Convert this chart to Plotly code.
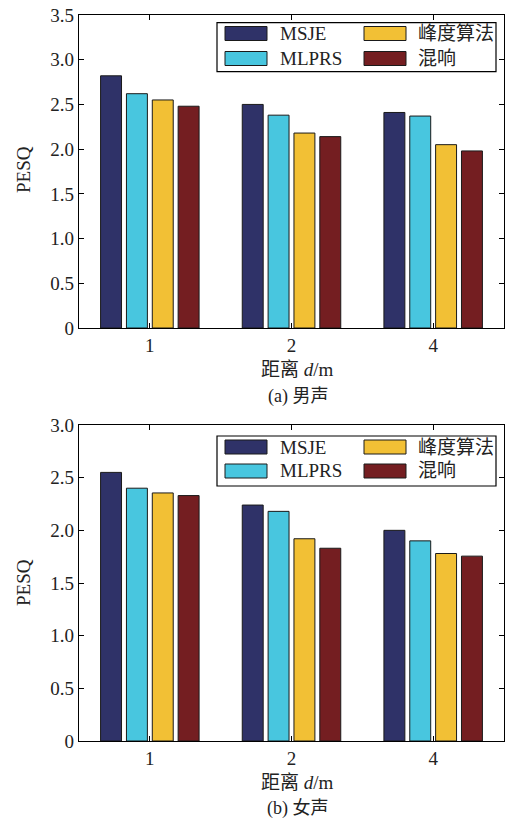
import plotly.graph_objects as go

W, H = 505, 821

categories = ["1", "2", "4"]
series_names = ["MSJE", "MLPRS", "峰度算法", "混响"]
series_colors = ["#2F3268", "#48C6DF", "#F2C035", "#741E21"]

male_msje = [2.82, 2.50, 2.41]
male_mlprs = [2.62, 2.38, 2.37]
male_kurt = [2.55, 2.18, 2.05]
male_reverb = [2.48, 2.14, 1.98]

female_msje = [2.55, 2.24, 2.00]
female_mlprs = [2.40, 2.18, 1.90]
female_kurt = [2.355, 1.92, 1.78]
female_reverb = [2.33, 1.83, 1.755]

y_ticks_top = [0, 0.5, 1.0, 1.5, 2.0, 2.5, 3.0, 3.5]
y_ticktext_top = ["0", "0.5", "1.0", "1.5", "2.0", "2.5", "3.0", "3.5"]
y_ticks_bot = [0, 0.5, 1.0, 1.5, 2.0, 2.5, 3.0]
y_ticktext_bot = ["0", "0.5", "1.0", "1.5", "2.0", "2.5", "3.0"]

SERIF = "Liberation Serif"
MIXED = "Liberation Serif, Noto Sans CJK SC"
FS = 19


def px(x):
    return x / W


def py(y):
    return 1 - y / H


fig = go.Figure()

male = [male_msje, male_mlprs, male_kurt, male_reverb]
female = [female_msje, female_mlprs, female_kurt, female_reverb]

for name, color, vals in zip(series_names, series_colors, male):
    fig.add_trace(go.Bar(x=categories, y=vals, name=name, marker_color=color,
                         marker_line=dict(color="#1a1a1a", width=1),
                         xaxis="x", yaxis="y", showlegend=False,
                         offsetgroup=name))
for name, color, vals in zip(series_names, series_colors, female):
    fig.add_trace(go.Bar(x=categories, y=vals, name=name, marker_color=color,
                         marker_line=dict(color="#1a1a1a", width=1),
                         xaxis="x2", yaxis="y2", showlegend=False,
                         offsetgroup=name))

x_dom = [px(79), px(504)]
top_dom = [py(328), py(15)]
bot_dom = [py(741), py(425)]

axis_common = dict(showline=True, linecolor="black", linewidth=1.2, mirror="ticks",
                   ticks="inside", ticklen=5, tickcolor="black", showgrid=False,
                   zeroline=False, automargin=False, ticklabeloverflow="allow",
                   tickfont=dict(family=SERIF, size=FS, color="#222"))

fig.update_layout(
    width=W, height=H,
    margin=dict(l=0, r=0, t=0, b=0, pad=0, autoexpand=False),
    paper_bgcolor="white", plot_bgcolor="white",
    barmode="group", bargap=0.27, bargroupgap=0.19,
    xaxis=dict(domain=x_dom, anchor="y", type="category", range=[-0.5, 2.5], **axis_common),
    yaxis=dict(domain=top_dom, anchor="x", range=[0, 3.5], tickvals=y_ticks_top,
               ticktext=y_ticktext_top, **axis_common),
    xaxis2=dict(domain=x_dom, anchor="y2", type="category", range=[-0.5, 2.5], **axis_common),
    yaxis2=dict(domain=bot_dom, anchor="x2", range=[0, 3.0], tickvals=y_ticks_bot,
                ticktext=y_ticktext_bot, **axis_common),
)

annotations = []
shapes = []

# axis labels and captions
for (ylab_y, xlab_y, cap_y, cap) in [(170, 369, 396, "(a) 男声"), (583, 782, 808, "(b) 女声")]:
    annotations.append(dict(x=px(23), y=py(ylab_y), xref="paper", yref="paper", text="PESQ",
                            textangle=-90, showarrow=False, xanchor="center", yanchor="middle",
                            font=dict(family=SERIF, size=FS, color="#222")))
    annotations.append(dict(x=px(297), y=py(xlab_y), xref="paper", yref="paper",
                            text="距离 <i>d</i>/m", showarrow=False,
                            xanchor="center", yanchor="middle",
                            font=dict(family=MIXED, size=FS, color="#222")))
    annotations.append(dict(x=px(298), y=py(cap_y), xref="paper", yref="paper",
                            text=cap, showarrow=False, xanchor="center", yanchor="middle",
                            font=dict(family=MIXED, size=18, color="#222")))

# legends (drawn as boxes + text)
for (box_top, box_bot, row1, row2) in [(22.7, 71.7, 33.5, 58.5), (436, 486, 447, 471)]:
    shapes.append(dict(type="rect", xref="paper", yref="paper",
                       x0=px(217), x1=px(496), y0=py(box_bot), y1=py(box_top),
                       line=dict(color="black", width=1.2), fillcolor="white", layer="above"))
    rows = [row1, row2, row1, row2]
    sw_x = [225, 225, 364, 364]
    tx_x = [278, 278, 416, 416]
    for name, color, ry, sx, tx in zip(series_names, series_colors, rows, sw_x, tx_x):
        shapes.append(dict(type="rect", xref="paper", yref="paper",
                           x0=px(sx), x1=px(sx + 42), y0=py(ry + 7), y1=py(ry - 7),
                           line=dict(color="#1a1a1a", width=1), fillcolor=color, layer="above"))
        annotations.append(dict(x=px(tx), y=py(ry), xref="paper", yref="paper",
                                text=name, showarrow=False, xanchor="left", yanchor="middle",
                                font=dict(family=MIXED, size=FS, color="#222")))

fig.update_layout(annotations=annotations, shapes=shapes)

fig.write_html(
    "out.html",
    config={"displayModeBar": False},
    post_script="document.body.style.margin='0';document.body.style.overflow='hidden';",
)
